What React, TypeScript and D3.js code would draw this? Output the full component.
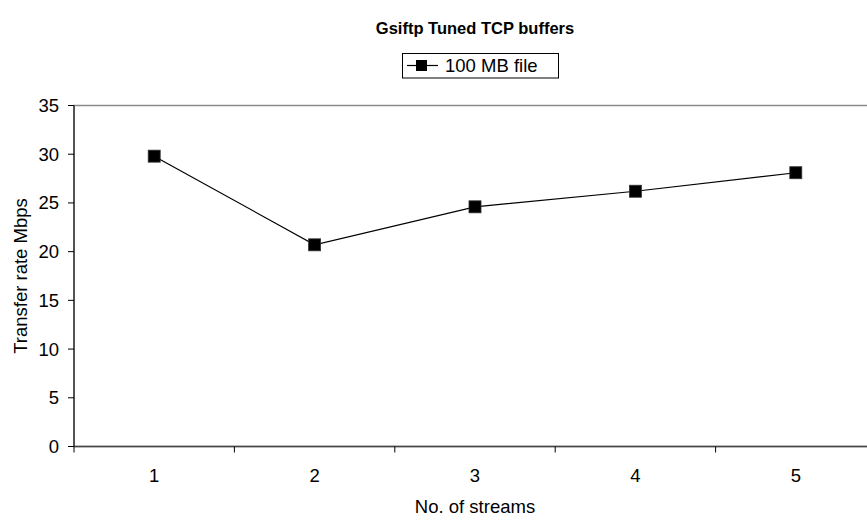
import React from "react";
import * as d3 from "d3";

const categories = ["1", "2", "3", "4", "5"];
const transferRate = [29.8, 20.7, 24.6, 26.2, 28.1];
const yTicks = [0, 5, 10, 15, 20, 25, 30, 35];
const seriesName = "100 MB file";

const W = 867;
const H = 521;
const plot = { left: 74, right: 876, top: 105.5, bottom: 446.5 };
const font = "Arial, 'Liberation Sans', Helvetica, sans-serif";
const fs = 18.5;

export default function App() {
  const x = d3
    .scaleBand<string>()
    .domain(categories)
    .range([plot.left, plot.right]);
  const y = d3.scaleLinear().domain([0, 35]).range([plot.bottom, plot.top]);

  const pts: [number, number][] = categories.map((c, i) => [
    (x(c) as number) + x.bandwidth() / 2,
    y(transferRate[i]),
  ]);
  const line = d3.line<[number, number]>()(pts) as string;
  const ms = 12;
  const cx = (plot.left + plot.right) / 2;

  const boundaries = categories.map((c) => x(c) as number).concat([plot.right]);

  return (
    <svg
      width={W}
      height={H}
      style={{ position: "absolute", left: 0, top: 0, display: "block", background: "#fff" }}
      fontFamily={font}
    >
      <rect x={0} y={0} width={W} height={H} fill="#fff" />
      <text x={cx} y={34} textAnchor="middle" fontSize={16.5} fontWeight="bold" fill="#000">
        Gsiftp Tuned TCP buffers
      </text>

      {/* plot frame */}
      <rect
        x={plot.left}
        y={plot.top}
        width={plot.right - plot.left}
        height={plot.bottom - plot.top}
        fill="none"
        stroke="#8a8a8a"
        strokeWidth={1.5}
      />

      {/* y axis */}
      <line x1={plot.left} x2={plot.left} y1={plot.top} y2={plot.bottom} stroke="#000" strokeWidth={1} />
      {yTicks.map((t) => (
        <g key={t}>
          <line x1={plot.left - 6} x2={plot.left} y1={y(t)} y2={y(t)} stroke="#000" />
          <text x={59} y={y(t) + 6.5} textAnchor="end" fontSize={fs} fill="#000">
            {t}
          </text>
        </g>
      ))}

      {/* x axis */}
      <line x1={plot.left} x2={plot.right} y1={plot.bottom} y2={plot.bottom} stroke="#444" strokeWidth={1.5} />
      {boundaries.map((b, i) => (
        <line key={i} x1={b} x2={b} y1={plot.bottom} y2={plot.bottom + 6} stroke="#000" />
      ))}
      {categories.map((c) => (
        <text
          key={c}
          x={(x(c) as number) + x.bandwidth() / 2}
          y={482}
          textAnchor="middle"
          fontSize={fs}
          fill="#000"
        >
          {c}
        </text>
      ))}

      <text x={cx} y={513} textAnchor="middle" fontSize={fs} fill="#000">
        No. of streams
      </text>
      <text
        transform={`translate(27, ${(plot.top + plot.bottom) / 2}) rotate(-90)`}
        textAnchor="middle"
        fontSize={fs}
        fill="#000"
      >
        Transfer rate Mbps
      </text>

      {/* series */}
      <path d={line} fill="none" stroke="#000" strokeWidth={1.2} />
      {pts.map(([px, py], i) => (
        <rect
          key={i}
          x={px - ms / 2}
          y={py - ms / 2}
          width={ms}
          height={ms}
          fill="#000"
          stroke="#333"
          strokeWidth={0.8}
        />
      ))}

      {/* legend */}
      <rect x={402.5} y={53.5} width={156} height={24.5} fill="#fff" stroke="#000" strokeWidth={1} />
      <line x1={407} x2={438} y1={65.5} y2={65.5} stroke="#000" strokeWidth={1.2} />
      <rect x={416} y={60} width={11} height={11} fill="#000" />
      <text x={445} y={72} fontSize={fs} fill="#000">
        {seriesName}
      </text>
    </svg>
  );
}
